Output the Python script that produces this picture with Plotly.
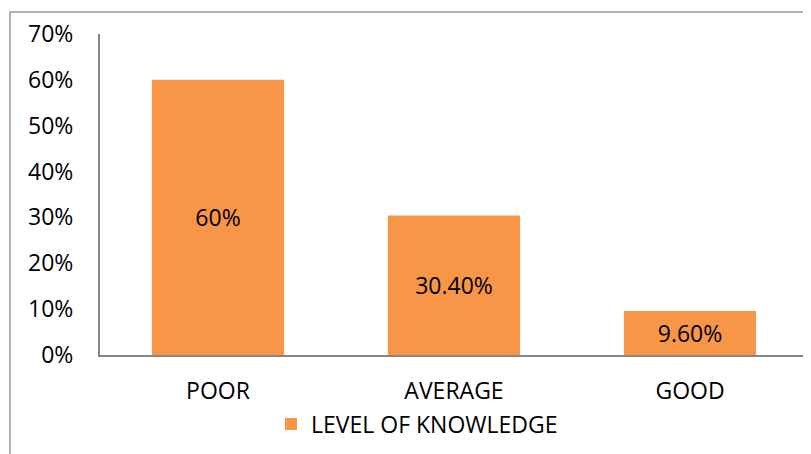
import plotly.graph_objects as go

categories = ["POOR", "AVERAGE", "GOOD"]
values = [0.60, 0.304, 0.096]
labels = ["60%", "30.40%", "9.60%"]
series_name = "LEVEL OF KNOWLEDGE"
y_ticks = [0, 0.1, 0.2, 0.3, 0.4, 0.5, 0.6, 0.7]
y_tick_labels = ["0%", "10%", "20%", "30%", "40%", "50%", "60%", "70%"]

FONT = "Open Sans, Carlito, Calibri, sans-serif"
FS = 23

fig = go.Figure()
fig.add_trace(go.Bar(
    x=categories, y=values, name=series_name,
    text=labels, textposition="inside", insidetextanchor="middle",
    textfont=dict(family=FONT, size=FS, color="black"),
    marker=dict(color="#F79646", line=dict(width=0)),
    showlegend=True,
))

# page has an 8px body offset
OFF = 8
L, R, T, B = 100 - OFF, 3, 34 - OFF, 99
W, H = 811 - OFF, 454 - OFF
pw, ph = W - L - R, H - T - B

def px(x):
    return (x - OFF - L) / pw

def py(y):
    return (H - B - (y - OFF)) / ph

fig.update_layout(
    width=W, height=H,
    margin=dict(l=L, r=R, t=T, b=B, autoexpand=False),
    paper_bgcolor="white", plot_bgcolor="white",
    bargap=0.44,
    font=dict(family=FONT, size=FS, color="black"),
    showlegend=True,
    legend=dict(orientation="h", x=px(417), xanchor="center", y=py(424), yanchor="middle",
                font=dict(family=FONT, size=FS, color="black"), itemwidth=30,
                bgcolor="rgba(0,0,0,0)"),
    xaxis=dict(showgrid=False, showline=True, linecolor="#868686", linewidth=2,
               ticks="", tickfont=dict(family=FONT, size=FS, color="black"), ticklabelstandoff=14),
    yaxis=dict(range=[0, 0.7], tickvals=y_ticks, ticktext=y_tick_labels,
               showgrid=False, showline=True, linecolor="#868686", linewidth=2,
               ticks="", tickfont=dict(family=FONT, size=FS, color="black"), ticklabelstandoff=20),
    shapes=[dict(type="rect", xref="paper", yref="paper",
                 x0=px(10), x1=px(830), y0=py(470), y1=py(12),
                 line=dict(color="#999999", width=1.5), fillcolor="rgba(0,0,0,0)", layer="below")],
)

fig.write_html("out.html")
